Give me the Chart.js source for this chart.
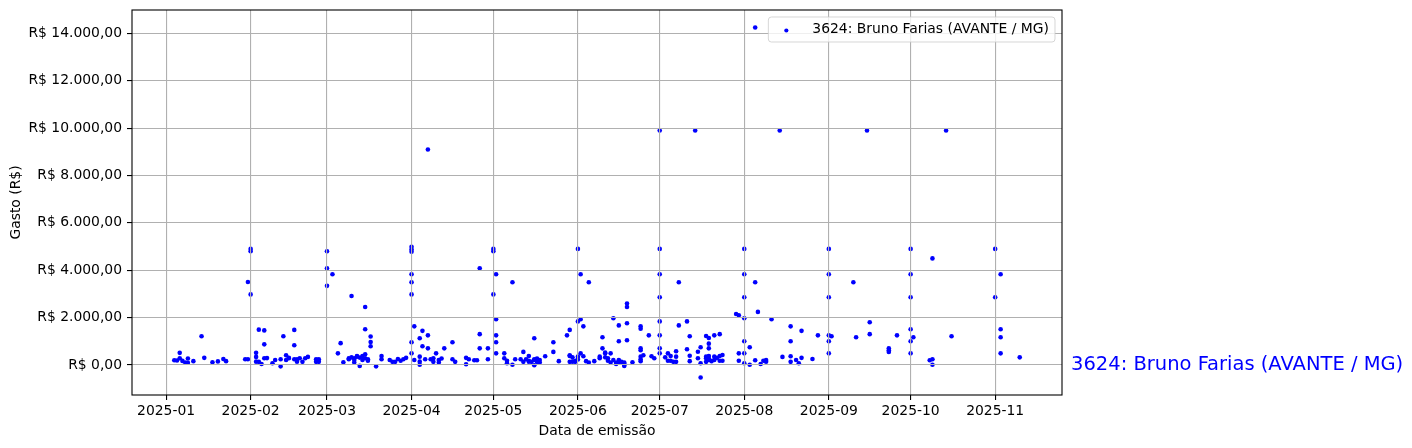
<!DOCTYPE html>
<html>
<head>
<meta charset="utf-8">
<script src="https://cdn.jsdelivr.net/npm/chart.js@4.4.1/dist/chart.umd.min.js"></script>
<style>
  html, body { margin: 0; padding: 0; background: #fff; }
</style>
</head>
<body>
<canvas id="grafico" width="1412" height="448"></canvas>
<script>
// gastos do deputado, um ponto por nota
const rotulo = "3624: Bruno Farias (AVANTE / MG)";

const datas = [
  "2025-01-04","2025-01-05","2025-01-06","2025-01-06","2025-01-07","2025-01-08","2025-01-09","2025-01-09","2025-01-11","2025-01-14","2025-01-15","2025-01-18","2025-01-20","2025-01-22","2025-01-23","2025-01-30","2025-01-31","2025-01-31",
  "2025-02-01","2025-02-01","2025-02-01","2025-02-03","2025-02-03","2025-02-03","2025-02-04","2025-02-04","2025-02-05","2025-02-06","2025-02-06","2025-02-06","2025-02-07","2025-02-09","2025-02-10","2025-02-12","2025-02-12","2025-02-13","2025-02-14","2025-02-14","2025-02-15","2025-02-15","2025-02-17","2025-02-17","2025-02-17","2025-02-18","2025-02-18","2025-02-19","2025-02-20","2025-02-21","2025-02-22","2025-02-25","2025-02-25","2025-02-26","2025-02-26",
  "2025-03-01","2025-03-01","2025-03-01","2025-03-03","2025-03-05","2025-03-06","2025-03-07","2025-03-09","2025-03-09","2025-03-10","2025-03-10","2025-03-11","2025-03-11","2025-03-11","2025-03-12","2025-03-12","2025-03-13","2025-03-13","2025-03-14","2025-03-14","2025-03-15","2025-03-15","2025-03-15","2025-03-15","2025-03-16","2025-03-16","2025-03-17","2025-03-17","2025-03-17","2025-03-19","2025-03-21","2025-03-21","2025-03-24","2025-03-25","2025-03-26","2025-03-27","2025-03-28","2025-03-29","2025-03-30",
  "2025-04-01","2025-04-01","2025-04-01","2025-04-01","2025-04-01","2025-04-01","2025-04-01","2025-04-01","2025-04-02","2025-04-02","2025-04-04","2025-04-04","2025-04-04","2025-04-04","2025-04-05","2025-04-05","2025-04-06","2025-04-07","2025-04-07","2025-04-07","2025-04-08","2025-04-09","2025-04-09","2025-04-10","2025-04-11","2025-04-11","2025-04-12","2025-04-13","2025-04-16","2025-04-16","2025-04-17","2025-04-21","2025-04-21","2025-04-22","2025-04-24","2025-04-25","2025-04-26","2025-04-26","2025-04-26","2025-04-29","2025-04-29",
  "2025-05-01","2025-05-01","2025-05-01","2025-05-02","2025-05-02","2025-05-02","2025-05-02","2025-05-02","2025-05-05","2025-05-05","2025-05-06","2025-05-06","2025-05-08","2025-05-08","2025-05-09","2025-05-11","2025-05-12","2025-05-12","2025-05-13","2025-05-14","2025-05-14","2025-05-14","2025-05-15","2025-05-16","2025-05-16","2025-05-16","2025-05-16","2025-05-17","2025-05-17","2025-05-17","2025-05-18","2025-05-18","2025-05-20","2025-05-23","2025-05-23","2025-05-25","2025-05-28","2025-05-29","2025-05-29","2025-05-29","2025-05-29","2025-05-30","2025-05-30","2025-05-31","2025-05-31",
  "2025-06-01","2025-06-01","2025-06-01","2025-06-01","2025-06-02","2025-06-02","2025-06-02","2025-06-03","2025-06-03","2025-06-04","2025-06-05","2025-06-05","2025-06-07","2025-06-09","2025-06-09","2025-06-10","2025-06-10","2025-06-11","2025-06-11","2025-06-11","2025-06-12","2025-06-12","2025-06-13","2025-06-13","2025-06-14","2025-06-14","2025-06-15","2025-06-15","2025-06-16","2025-06-16","2025-06-16","2025-06-16","2025-06-17","2025-06-18","2025-06-18","2025-06-18","2025-06-18","2025-06-19","2025-06-19","2025-06-19","2025-06-19","2025-06-21","2025-06-24","2025-06-24","2025-06-24","2025-06-24","2025-06-24","2025-06-24","2025-06-24","2025-06-25","2025-06-27","2025-06-28","2025-06-29",
  "2025-07-01","2025-07-01","2025-07-01","2025-07-01","2025-07-01","2025-07-01","2025-07-01","2025-07-01","2025-07-03","2025-07-04","2025-07-04","2025-07-05","2025-07-05","2025-07-06","2025-07-07","2025-07-07","2025-07-07","2025-07-08","2025-07-08","2025-07-11","2025-07-11","2025-07-12","2025-07-12","2025-07-12","2025-07-14","2025-07-15","2025-07-15","2025-07-16","2025-07-16","2025-07-16","2025-07-18","2025-07-18","2025-07-18","2025-07-18","2025-07-19","2025-07-19","2025-07-19","2025-07-19","2025-07-19","2025-07-19","2025-07-20","2025-07-21","2025-07-21","2025-07-21","2025-07-22","2025-07-23","2025-07-23","2025-07-23","2025-07-24","2025-07-24","2025-07-29","2025-07-30","2025-07-30","2025-07-30",
  "2025-08-01","2025-08-01","2025-08-01","2025-08-01","2025-08-01","2025-08-01","2025-08-01","2025-08-03","2025-08-03","2025-08-05","2025-08-05","2025-08-05","2025-08-06","2025-08-07","2025-08-08","2025-08-09","2025-08-09","2025-08-11","2025-08-14","2025-08-15","2025-08-18","2025-08-18","2025-08-18","2025-08-18","2025-08-20","2025-08-21","2025-08-22","2025-08-22","2025-08-26","2025-08-28",
  "2025-09-01","2025-09-01","2025-09-01","2025-09-01","2025-09-01","2025-09-01","2025-09-02","2025-09-10","2025-09-11","2025-09-15","2025-09-16","2025-09-16","2025-09-23","2025-09-23","2025-09-23","2025-09-26",
  "2025-10-01","2025-10-01","2025-10-01","2025-10-01","2025-10-01","2025-10-01","2025-10-02","2025-10-08","2025-10-09","2025-10-09","2025-10-09","2025-10-14","2025-10-16",
  "2025-11-01","2025-11-01","2025-11-03","2025-11-03","2025-11-03","2025-11-03","2025-11-10"
];

const gastos = [
  200,190,280,510,170,100,90,270,160,1210,300,110,150,250,160,240,240,3500,
  4900,4800,2980,510,340,140,1490,130,40,1460,870,280,290,70,210,-60,240,1210,210,410,300,280,1480,830,240,140,240,280,130,280,340,240,130,240,130,
  4800,4080,3340,3830,490,920,110,280,240,320,2910,210,280,100,350,380,310,-40,380,210,450,280,2450,1510,180,240,1200,970,790,-60,380,240,210,130,130,250,180,240,300,
  4990,4880,4780,3830,3490,2980,960,490,1630,210,1130,350,140,10,1440,790,240,9100,1250,700,240,130,280,490,100,210,270,700,960,240,130,300,30,240,200,200,4080,1300,700,700,240,
  4900,4800,2980,3830,1930,1250,960,490,490,280,180,70,3490,10,240,240,550,130,240,380,140,180,130,1130,240,210,-10,130,270,160,210,100,370,960,550,160,1250,1480,380,410,130,320,140,130,180,
  4900,1840,350,230,3830,1930,490,1630,370,160,3490,100,160,350,280,1170,700,520,490,320,280,180,100,490,1970,210,100,40,1670,1000,210,100,130,40,100,10,-40,2590,2450,1760,1040,110,1630,700,350,1530,620,240,160,410,1250,370,280,
  9900,4900,3830,2860,1840,1250,700,490,320,490,180,380,180,130,580,350,130,3490,1670,1840,660,1210,390,160,9900,280,560,750,70,-530,1220,350,280,130,1140,900,700,380,280,210,160,1250,210,350,300,1300,380,180,420,180,2150,2100,490,180,
  4900,3830,2860,1970,1000,490,70,750,10,14250,3490,200,2240,40,180,210,140,1930,9900,340,1630,1000,370,130,210,70,1440,300,250,1250,
  4900,3830,2860,1250,1000,490,1210,3490,1170,9900,1800,1300,700,620,550,1250,
  4900,3830,2860,1510,1000,490,1170,200,4500,240,10,9900,1210,
  4900,2860,3830,1510,1170,490,320
];

const meses = ["2025-01","2025-02","2025-03","2025-04","2025-05","2025-06","2025-07","2025-08","2025-09","2025-10","2025-11"];
const marcasY = [0, 2000, 4000, 6000, 8000, 10000, 12000, 14000];

const DIA = 86400000;
const inicio = Date.UTC(2025, 0, 1);
function diaDe(txt) {
  const p = txt.split("-").map(Number);
  return (Date.UTC(p[0], p[1] - 1, p[2] || 1) - inicio) / DIA;
}

function reais(v) {
  const neg = v < 0;
  const partes = Math.abs(v).toFixed(2).split(".");
  const inteiro = partes[0].replace(/\B(?=(\d{3})+(?!\d))/g, ".");
  return "R$ " + (neg ? "-" : "") + inteiro + "," + partes[1];
}

const pontos = datas.map((d, i) => ({ x: diaDe(d), y: gastos[i] }));

// margens de 5% como o autoscale do matplotlib
const xs = pontos.map(p => p.x), ys = pontos.map(p => p.y);
const xMin = Math.min(...xs), xMax = Math.max(...xs);
const yMin = Math.min(...ys), yMax = Math.max(...ys);
const mx = (xMax - xMin) * 0.05, my = (yMax - yMin) * 0.05;

const FONTE = "DejaVu Sans";
Chart.defaults.font.family = FONTE;
Chart.defaults.font.size = 13.9;
Chart.defaults.color = "#000";

const moldura = {
  id: "moldura",
  afterDraw(chart) {
    const { ctx, chartArea: a } = chart;
    ctx.save();
    ctx.strokeStyle = "#000";
    ctx.lineWidth = 1.1;
    ctx.strokeRect(a.left, a.top, a.right - a.left, a.bottom - a.top);

    // legenda no canto superior direito
    ctx.font = "13.9px " + FONTE;
    const w = ctx.measureText(rotulo).width;
    const dir = a.right - 7, topo = a.top + 7, alt = 25;
    const tx = dir - 6 - w;
    const esq = tx - 44;
    ctx.beginPath();
    ctx.roundRect(esq, topo, dir - esq, alt, 3);
    ctx.fillStyle = "rgba(255,255,255,0.8)";
    ctx.fill();
    ctx.strokeStyle = "rgba(204,204,204,0.8)";
    ctx.lineWidth = 1;
    ctx.stroke();
    ctx.fillStyle = "#0000ff";
    ctx.beginPath();
    ctx.arc(tx - 26, topo + alt / 2 + 1, 2.1, 0, Math.PI * 2);
    ctx.fill();
    ctx.fillStyle = "#000";
    ctx.textBaseline = "middle";
    ctx.textAlign = "left";
    ctx.fillText(rotulo, tx, topo + alt / 2);

    // nome ao lado do grafico, na altura do zero
    const y0 = chart.scales.y.getPixelForValue(0);
    ctx.font = "19.5px " + FONTE;
    ctx.fillStyle = "#0000ff";
    ctx.fillText(rotulo, a.right + 9, y0);
    ctx.restore();
  }
};

new Chart(document.getElementById("grafico"), {
  type: "scatter",
  data: {
    datasets: [{
      label: rotulo,
      data: pontos,
      backgroundColor: "#0000ff",
      borderWidth: 0,
      pointRadius: 2.3,
      pointHoverRadius: 3
    }]
  },
  options: {
    responsive: false,
    animation: false,
    devicePixelRatio: 1,
    layout: { padding: { left: 0, right: 350, top: 10, bottom: 0 } },
    plugins: { legend: { display: false }, tooltip: { enabled: false } },
    scales: {
      x: {
        type: "linear",
        min: xMin - mx,
        max: xMax + mx,
        afterBuildTicks: s => { s.ticks = meses.map(m => ({ value: diaDe(m) })); },
        afterFit: s => { s.height = 53; s.paddingLeft = 0; s.paddingRight = 0; },
        ticks: {
          padding: 3,
          maxRotation: 0,
          autoSkip: false,
          callback: (v, i) => meses[i]
        },
        grid: { z: 1, color: "#b0b0b0", lineWidth: 1.1, tickColor: "#000", tickLength: 5, tickWidth: 1.1 },
        border: { display: false },
        title: { display: true, text: "Data de emissão", padding: { top: 0, bottom: 8 } }
      },
      y: {
        min: yMin - my,
        max: yMax + my,
        afterBuildTicks: s => { s.ticks = marcasY.map(v => ({ value: v })); },
        afterFit: s => { s.width = 132; s.paddingTop = 0; s.paddingBottom = 0; },
        ticks: { padding: 5, callback: v => reais(v) },
        grid: { z: 1, color: "#b0b0b0", lineWidth: 1.1, tickColor: "#000", tickLength: 5, tickWidth: 1.1 },
        border: { display: false },
        title: { display: true, text: "Gasto (R$)", padding: { top: 8, bottom: 0 } }
      }
    }
  },
  plugins: [moldura]
});
</script>
</body>
</html>
